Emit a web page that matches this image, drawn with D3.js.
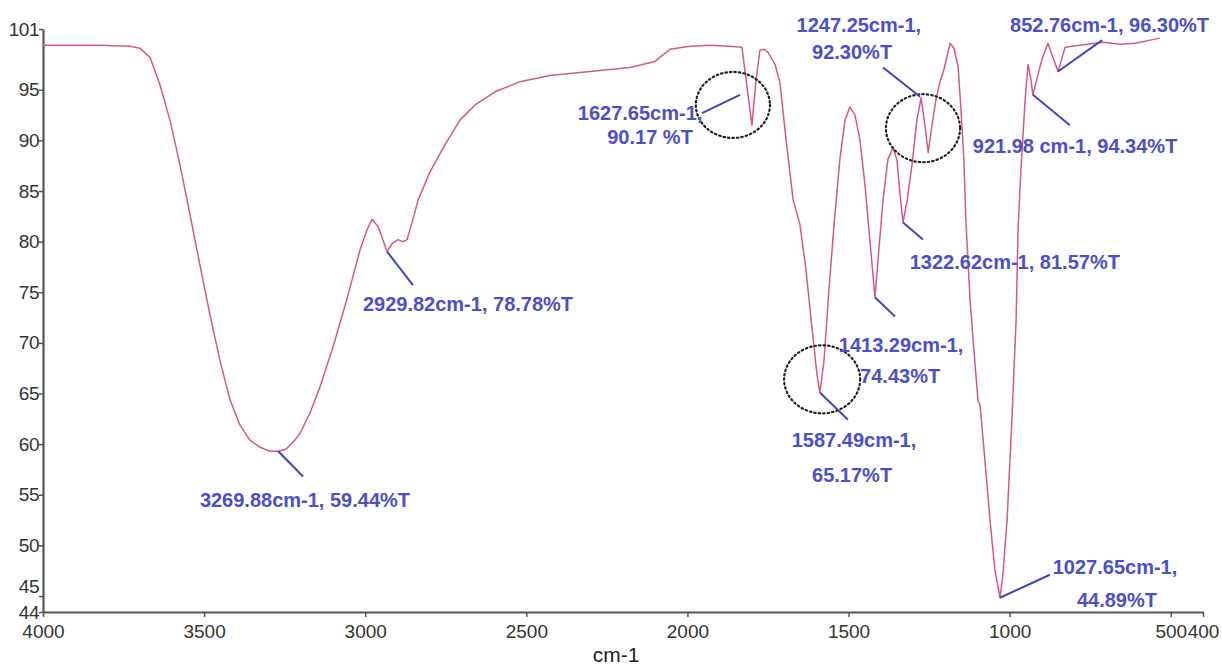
<!DOCTYPE html>
<html><head><meta charset="utf-8">
<script src="https://cdn.jsdelivr.net/npm/d3@7/dist/d3.min.js"></script>
<style>body{margin:0;background:#fff} svg{display:block}</style>
</head><body>
<svg id="c" width="1222" height="672"></svg>
<script>
// ---- data ----
const wavenumber = [4000,3823,3730,3699,3668,3637,3606,3575,3544,3513,3482,3451,3420,3389,3358,3327,3296,3270,3246,3218,3202,3171,3140,3100,3057,3016,2994,2979,2960,2932,2917,2898,2883,2870,2852,2836,2799,2752,2706,2659,2597,2520,2427,2302,2178,2101,2054,1992,1930,1868,1831,1818,1800,1787,1775,1762,1750,1728,1713,1694,1672,1651,1632,1613,1598,1589,1576,1561,1545,1527,1511,1496,1480,1465,1449,1434,1418,1406,1393,1378,1362,1350,1340,1331,1318,1303,1288,1275,1263,1253,1241,1229,1216,1204,1195,1185,1173,1160,1151,1142,1136,1123,1111,1098,1092,1077,1061,1046,1030,1021,1008,993,980,974,965,952,943,934,928,912,900,881,866,850,837,828,782,710,658,611,564,533];
const transmittance = [99.4,99.4,99.3,99.1,98.2,95.5,92.0,87.6,82.7,77.7,72.8,68.3,64.4,61.9,60.4,59.7,59.3,59.3,59.5,60.4,61.1,63.1,65.7,69.6,74.3,79.2,81.2,82.2,81.5,79.0,79.8,80.2,80.0,80.2,82.2,84.1,86.9,89.6,92.0,93.5,94.8,95.8,96.4,96.8,97.2,97.8,99.0,99.3,99.4,99.3,99.2,96.0,91.5,96.0,98.9,99.0,98.7,97.5,95.7,90.1,84.1,81.7,77.2,71.3,66.9,65.1,68.3,75.2,81.7,88.1,92.0,93.3,92.5,90.1,85.6,80.2,74.5,79.2,84.1,88.1,89.3,88.1,84.6,81.9,84.1,87.6,92.0,94.2,91.5,88.8,91.5,94.0,95.8,97.0,98.2,99.6,99.1,97.3,93.0,88.1,82.2,74.3,69.3,64.2,63.9,58.5,52.5,47.6,44.89,47.1,52.5,62.4,72.3,81.2,87.1,94.0,97.5,96.0,94.5,96.5,98.0,99.6,98.2,96.8,98.2,99.2,99.4,99.7,99.5,99.6,99.9,100.1];

const xTicks = [4000,3500,3000,2500,2000,1500,1000,500,400];
const yTicks = [44,45,50,55,60,65,70,75,80,85,90,95,101];
const xTitle = "cm-1";

// peak leader lines: from peak point to end point
const leaderFromWn = [3270,2932,1837,1589,1418,1331,1278,928,850,1030];
const leaderFromT  = [59.3,79.0,94.5,65.1,74.5,81.9,94.3,94.5,96.8,44.89];
const leaderToWn   = [3193,2852,1955,1502,1356,1269,1393,813,713,875];
const leaderToT    = [56.8,75.7,92.7,62.4,72.6,80.2,97.2,91.5,99.9,47.1];

// label text lines and their anchor (centre) in data units
const labelText = ["3269.88cm-1, 59.44%T","2929.82cm-1, 78.78%T","1627.65cm-1,","90.17 %T","1587.49cm-1,","65.17%T","1413.29cm-1,","74.43%T","1322.62cm-1, 81.57%T","1247.25cm-1,","92.30%T","921.98 cm-1, 94.34%T","852.76cm-1, 96.30%T","1027.65cm-1,","44.89%T"];
const labelWn = [3187,2681,2147,2116,1483,1489,1337,1340,984,1468,1489,797,690,673,667];
const labelT  = [54.5,73.8,92.7,90.3,60.4,57.0,69.8,66.7,78.0,101.4,98.7,89.4,101.4,47.9,44.75];

// dotted circles around peaks: centre and radii in data units
const circleWn = [1859,1582,1269];
const circleT  = [93.5,66.4,91.2];
const circleRWn = [115,118,115];
const circleRT  = [3.26,3.36,3.36];

// ---- drawing ----
const svg = d3.select("#c");
const x = d3.scaleLinear().domain([4000,400]).range([43,1203]);
const y = d3.scaleLinear().domain([44,45,101]).range([612,596,29]);

const axisColor = "#555";
const tickFont = "'Liberation Sans', Arial, sans-serif";

// x axis
const gx = svg.append("g").attr("transform",`translate(0,${y(44)})`)
  .call(d3.axisBottom(x).tickValues(xTicks).tickSize(5).tickSizeOuter(0).tickFormat(d3.format("d")));
gx.select(".domain").attr("stroke",axisColor).attr("stroke-width",2.2);
gx.selectAll(".tick line").attr("stroke",axisColor).attr("stroke-width",1.5);
gx.selectAll(".tick text").attr("fill","#333").attr("font-size",19).attr("font-family",tickFont).attr("dy","0.95em");

// y axis
const gy = svg.append("g").attr("transform",`translate(${x(4000)},0)`)
  .call(d3.axisLeft(y).tickValues(yTicks).tickSize(4).tickSizeOuter(0).tickFormat(d3.format("d")));
gy.select(".domain").attr("stroke",axisColor).attr("stroke-width",2.2);
gy.selectAll(".tick line").attr("stroke",axisColor).attr("stroke-width",1.5);
gy.selectAll(".tick text").attr("fill","#333").attr("font-size",19).attr("font-family",tickFont).attr("x",-4).attr("letter-spacing","-0.5");
gy.selectAll(".tick").filter(d=>d===45).select("text").attr("dy","-0.2em");

// x title
svg.append("text").attr("x",616).attr("y",y(44)+42)
  .attr("text-anchor","middle").attr("dominant-baseline","central")
  .attr("font-family",tickFont).attr("font-size",21).attr("fill","#222").text(xTitle);

// spectrum
const pts = wavenumber.map((w,i)=>[w,transmittance[i]]);
svg.append("path").datum(pts)
  .attr("fill","none").attr("stroke","#d4578e").attr("stroke-width",1.5).attr("stroke-linejoin","round")
  .attr("d", d3.line().x(d=>x(d[0])).y(d=>y(d[1])));

// dotted circles
svg.selectAll("ellipse.c").data(circleWn).join("ellipse")
  .attr("cx",(d)=>x(d)).attr("cy",(d,i)=>y(circleT[i]))
  .attr("rx",(d,i)=>Math.abs(x(d+circleRWn[i])-x(d)))
  .attr("ry",(d,i)=>Math.abs(y(circleT[i]+circleRT[i])-y(circleT[i])))
  .attr("fill","none").attr("stroke","#222").attr("stroke-width",2.2).attr("stroke-dasharray","1.5,3").attr("stroke-linecap","round");

// leader lines
svg.selectAll("line.lead").data(leaderFromWn).join("line")
  .attr("x1",d=>x(d)).attr("y1",(d,i)=>y(leaderFromT[i]))
  .attr("x2",(d,i)=>x(leaderToWn[i])).attr("y2",(d,i)=>y(leaderToT[i]))
  .attr("stroke","#3e48b8").attr("stroke-width",2);

// labels
svg.selectAll("text.lab").data(labelText).join("text")
  .attr("x",(d,i)=>x(labelWn[i])).attr("y",(d,i)=>y(labelT[i]))
  .attr("text-anchor","middle").attr("dominant-baseline","central")
  .attr("font-family","'Liberation Sans Narrow','Arial Narrow','Liberation Sans',sans-serif")
  .attr("font-weight","bold").attr("font-size",20).attr("fill","#4b50c8")
  .text(d=>d);
</script>
</body></html>
